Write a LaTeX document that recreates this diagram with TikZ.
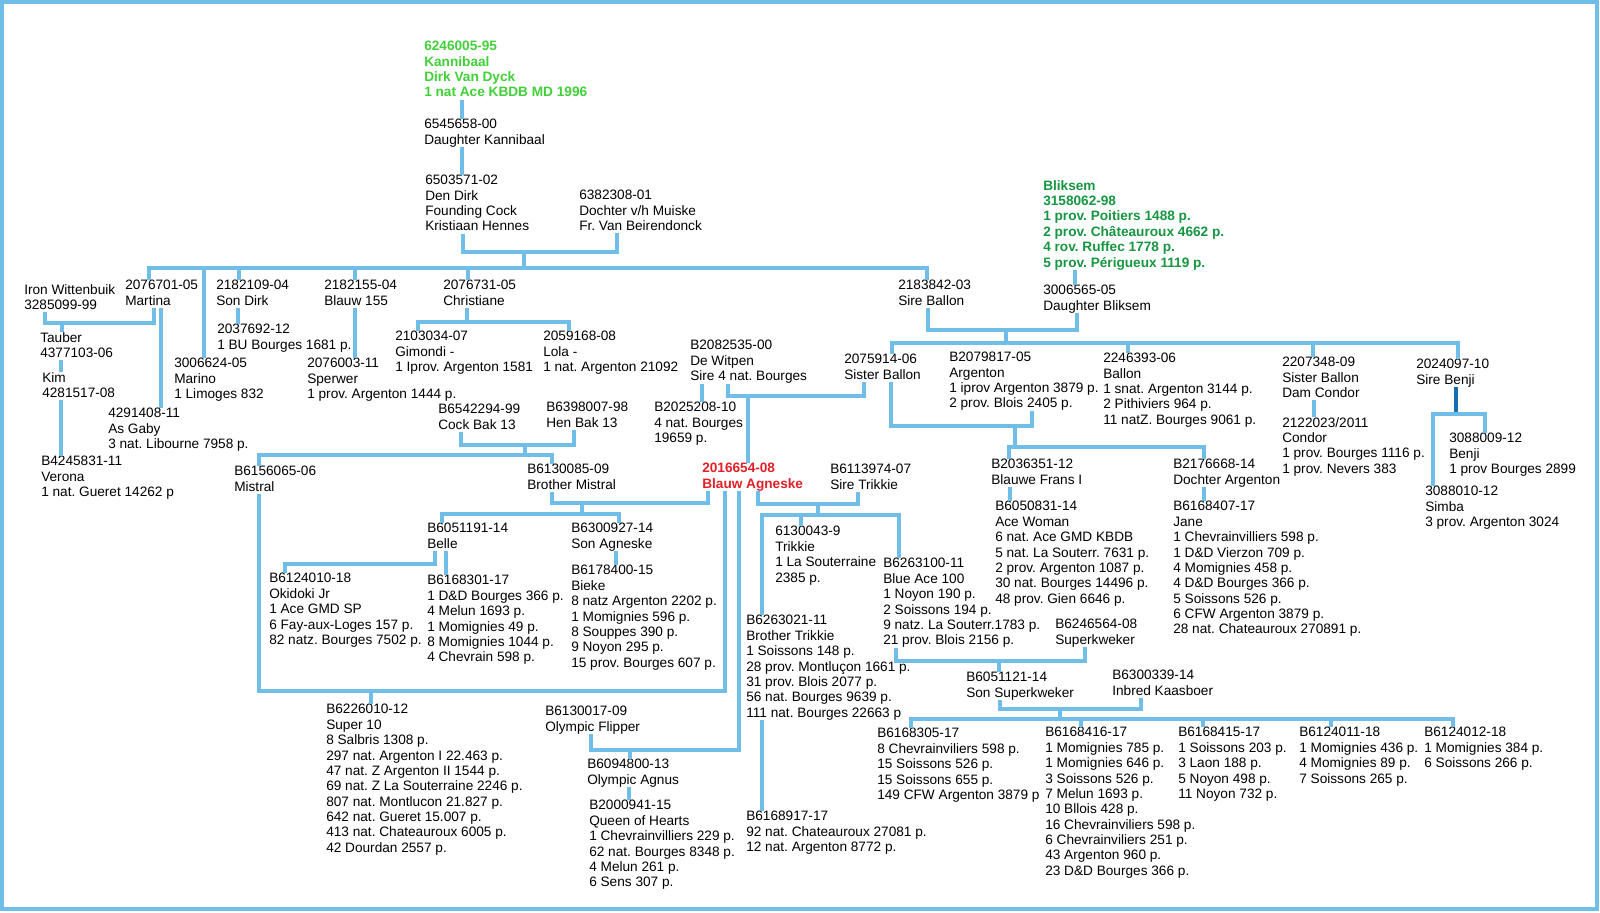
\documentclass[tikz,border=0pt]{standalone}
\usepackage{fontspec}
\setmainfont{Liberation Sans}
\usepackage{tikz}

\definecolor{lineblue}{RGB}{112,190,232}
\definecolor{sireblue}{RGB}{24,108,176}
\definecolor{kannigreen}{RGB}{64,208,56}
\definecolor{blikgreen}{RGB}{22,150,64}
\definecolor{agnesred}{RGB}{226,32,40}

\def\pedfont{\fontsize{9.7pt}{10.95pt}\selectfont\frenchspacing}
\def\topstrut{\rule{0pt}{3.2mm}}
\def\botstrut{\rule[-0.6mm]{0pt}{0.6mm}}

\tikzset{
	pigeon/.style={anchor=north west, inner sep=0pt, align=left, font=\pedfont,
		execute at begin node=\topstrut, execute at end node=\botstrut},
	champion/.style={pigeon, font=\pedfont\bfseries},
	link/.style={draw=lineblue, line width=0.85mm},
	sirelink/.style={draw=sireblue, line width=1.1mm},
	frame/.style={draw=lineblue, line width=0.85mm}
}

\begin{document}
\begin{tikzpicture}[x=0.25mm, y=-0.25mm]
			%%%%% START %%%%%
			
			\useasboundingbox (0,0) rectangle (1600,912);
			\draw[frame] (2,2) rectangle (1597,909);
			
			\begin{scope}[yshift=-0.75mm]
			% top of the line
			\node[champion, text=kannigreen] (kannibaal) at (424,38) {6246005-95\\Kannibaal\\Dirk Van Dyck\\1 nat Ace KBDB MD 1996};
			\node[pigeon] (dochterK) at (424,116) {6545658-00\\Daughter Kannibaal};
			\node[pigeon] (dendirk) at (425,172) {6503571-02\\Den Dirk\\Founding Cock\\Kristiaan Hennes};
			\node[pigeon] (muiske) at (579,187) {6382308-01\\Dochter v/h Muiske\\Fr. Van Beirendonck};
			\node[champion, text=blikgreen] (bliksem) at (1043,177) {Bliksem\\3158062-98\\1 prov. Poitiers 1488 p.\\2 prov. Châteauroux 4662 p.\\4 rov. Ruffec 1778 p.\\5 prov. Périgueux 1119 p.};
			\node[pigeon] (dbliksem) at (1043,282) {3006565-05\\Daughter Bliksem};
			
			\node[pigeon] (iron) at (24,281) {Iron Wittenbuik\\3285099-99};
			\node[pigeon] (martina) at (125,277) {2076701-05\\Martina};
			\node[pigeon] (sondirk) at (216,277) {2182109-04\\Son Dirk};
			\node[pigeon] (blauw) at (324,277) {2182155-04\\Blauw 155};
			\node[pigeon] (christiane) at (443,277) {2076731-05\\Christiane};
			\node[pigeon] (sireballon) at (898,277) {2183842-03\\Sire Ballon};
			
			\node[pigeon] (tauber) at (40,329) {Tauber\\4377103-06};
			\node[pigeon] (kim) at (42,369) {Kim\\4281517-08};
			\node[pigeon] (verona) at (41,453) {B4245831-11\\Verona\\1 nat. Gueret 14262 p};
			\node[pigeon] (asgaby) at (108,405) {4291408-11\\As Gaby\\3 nat. Libourne 7958 p.};
			\node[pigeon] (marino) at (174,355) {3006624-05\\Marino\\1 Limoges 832};
			\node[pigeon] (bu) at (217,321) {2037692-12\\1 BU Bourges 1681 p.};
			\node[pigeon] (sperwer) at (307,355) {2076003-11\\Sperwer\\1 prov. Argenton 1444 p.};
			\node[pigeon] (gimondi) at (395,328) {2103034-07\\Gimondi -\\1 Iprov. Argenton 1581};
			\node[pigeon] (lola) at (543,328) {2059168-08\\Lola -\\1 nat. Argenton 21092};
			\node[pigeon] (cockbak) at (438,401) {B6542294-99\\Cock Bak 13};
			\node[pigeon] (henbak) at (546,399) {B6398007-98\\Hen Bak 13};
			\node[pigeon] (witpen) at (690,337) {B2082535-00\\De Witpen\\Sire 4 nat. Bourges};
			\node[pigeon] (bourges) at (654,399) {B2025208-10\\4 nat. Bourges\\19659 p.};
			
			\node[pigeon] (sisterballon) at (844,351) {2075914-06\\Sister Ballon};
			\node[pigeon] (argenton) at (949,349) {B2079817-05\\Argenton\\1 iprov Argenton 3879 p.\\2 prov. Blois 2405 p.};
			\node[pigeon] (ballon) at (1103,350) {2246393-06\\Ballon\\1 snat. Argenton 3144 p.\\2 Pithiviers 964 p.\\11 natZ. Bourges 9061 p.};
			\node[pigeon] (damcondor) at (1282,354) {2207348-09\\Sister Ballon\\Dam Condor};
			\node[pigeon] (sirebenji) at (1416,356) {2024097-10\\Sire Benji};
			\node[pigeon] (condor) at (1282,414) {2122023/2011\\Condor\\1 prov. Bourges 1116 p.\\1 prov. Nevers 383};
			\node[pigeon] (benji) at (1449,430) {3088009-12\\Benji\\1 prov Bourges 2899};
			\node[pigeon] (simba) at (1425,483) {3088010-12\\Simba\\3 prov. Argenton 3024};
			
			\node[pigeon] (mistral) at (234,463) {B6156065-06\\Mistral};
			\node[pigeon] (brmistral) at (527,461) {B6130085-09\\Brother Mistral};
			\node[champion, text=agnesred] (agneske) at (702,460) {2016654-08\\Blauw Agneske};
			\node[pigeon] (siretrikkie) at (830,461) {B6113974-07\\Sire Trikkie};
			\node[pigeon] (frans) at (991,456) {B2036351-12\\Blauwe Frans I};
			\node[pigeon] (dargenton) at (1173,456) {B2176668-14\\Dochter Argenton};
			\node[pigeon] (acewoman) at (995,498) {B6050831-14\\Ace Woman\\6 nat. Ace GMD KBDB\\5 nat. La Souterr. 7631 p.\\2 prov. Argenton 1087 p.\\30 nat. Bourges 14496 p.\\48 prov. Gien 6646 p.};
			\node[pigeon] (jane) at (1173,498) {B6168407-17\\Jane\\1 Chevrainvilliers 598 p.\\1 D\&D Vierzon 709 p.\\4 Momignies 458 p.\\4 D\&D Bourges 366 p.\\5 Soissons 526 p.\\6 CFW Argenton 3879 p.\\28 nat. Chateauroux 270891 p.};
			
			\node[pigeon] (belle) at (427,520) {B6051191-14\\Belle};
			\node[pigeon] (sonagneske) at (571,520) {B6300927-14\\Son Agneske};
			\node[pigeon] (okidoki) at (269,570) {B6124010-18\\Okidoki Jr\\1 Ace GMD SP\\6 Fay-aux-Loges 157 p.\\82 natz. Bourges 7502 p.};
			\node[pigeon] (melun) at (427,572) {B6168301-17\\1 D\&D Bourges 366 p.\\4 Melun 1693 p.\\1 Momignies 49 p.\\8 Momignies 1044 p.\\4 Chevrain 598 p.};
			\node[pigeon] (bieke) at (571,562) {B6178400-15\\Bieke\\8 natz Argenton 2202 p.\\1 Momignies 596 p.\\8 Souppes 390 p.\\9 Noyon 295 p.\\15 prov. Bourges 607 p.};
			\node[pigeon] (trikkie) at (775,523) {6130043-9\\Trikkie\\1 La Souterraine\\2385 p.};
			\node[pigeon] (blueace) at (883,555) {B6263100-11\\Blue Ace 100\\1 Noyon 190 p.\\2 Soissons 194 p.\\9 natz. La Souterr.1783 p.\\21 prov. Blois 2156 p.};
			\node[pigeon] (brtrikkie) at (746,612) {B6263021-11\\Brother Trikkie\\1 Soissons 148 p.\\28 prov. Montluçon 1661 p.\\31 prov. Blois 2077 p.\\56 nat. Bourges 9639 p.\\111 nat. Bourges 22663 p};
			\node[pigeon] (superkweker) at (1055,616) {B6246564-08\\Superkweker};
			\node[pigeon] (sonsuper) at (966,669) {B6051121-14\\Son Superkweker};
			\node[pigeon] (kaasboer) at (1112,667) {B6300339-14\\Inbred Kaasboer};
			
			\node[pigeon] (super10) at (326,701) {B6226010-12\\Super 10\\8 Salbris 1308 p.\\297 nat. Argenton I 22.463 p.\\47 nat. Z Argenton II 1544 p.\\69 nat. Z La Souterraine 2246 p.\\807 nat. Montlucon 21.827 p.\\642 nat. Gueret 15.007 p.\\413 nat. Chateauroux 6005 p.\\42 Dourdan 2557 p.};
			\node[pigeon] (flipper) at (545,703) {B6130017-09\\Olympic Flipper};
			\node[pigeon] (agnus) at (587,756) {B6094800-13\\Olympic Agnus};
			\node[pigeon] (queen) at (589,797) {B2000941-15\\Queen of Hearts\\1 Chevrainvilliers 229 p.\\62 nat. Bourges 8348 p.\\4 Melun 261 p.\\6 Sens 307 p.};
			\node[pigeon] (chateauroux) at (746,808) {B6168917-17\\92 nat. Chateauroux 27081 p.\\12 nat. Argenton 8772 p.};
			
			\node[pigeon] (kidA) at (877,725) {B6168305-17\\8 Chevrainviliers 598 p.\\15 Soissons 526 p.\\15 Soissons 655 p.\\149 CFW Argenton 3879 p};
			\node[pigeon] (kidB) at (1045,724) {B6168416-17\\1 Momignies 785 p.\\1 Momignies 646 p.\\3 Soissons 526 p.\\7 Melun 1693 p.\\10 Bllois 428 p.\\16 Chevrainviliers 598 p.\\6 Chevrainviliers 251 p.\\43 Argenton 960 p.\\23 D\&D Bourges 366 p.};
			\node[pigeon] (kidC) at (1178,724) {B6168415-17\\1 Soissons 203 p.\\3 Laon 188 p.\\5 Noyon 498 p.\\11 Noyon 732 p.};
			\node[pigeon] (kidD) at (1299,724) {B6124011-18\\1 Momignies 436 p.\\4 Momignies 89 p.\\7 Soissons 265 p.};
			\node[pigeon] (kidE) at (1424,724) {B6124012-18\\1 Momignies 384 p.\\6 Soissons 266 p.};
			
			% Kannibaal down to Den Dirk
			\draw[link] (kannibaal.south -| 462,0) -- (dochterK.north -| 462,0);
			\draw[link] (dochterK.south -| 462,0) -- (dendirk.north -| 462,0);
			
			% Den Dirk x Dochter v/h Muiske
			\coordinate (jDirk) at (524,249);
			\coordinate (barDirk) at (524,265);
			\draw[link] (dendirk.south -| 463,0) |- (jDirk) -| (muiske.south -| 617,0);
			\draw[link] (jDirk) -- (barDirk);
			\draw[link] (martina.north -| 149,0) |- (barDirk) -| (sireballon.north -| 927,0);
			\draw[link] (barDirk -| 204,0) -- (marino.north -| 204,0);
			\draw[link] (barDirk -| 239,0) -- (sondirk.north -| 239,0);
			\draw[link] (barDirk -| 355,0) -- (blauw.north -| 355,0);
			\draw[link] (barDirk -| 468,0) -- (christiane.north -| 468,0);
			
			% Iron Wittenbuik x Martina
			\coordinate (jIron) at (62,320);
			\draw[link] (iron.south -| 45,0) |- (jIron) -| (martina.south -| 154,0);
			\draw[link] (jIron) -- (tauber.north -| jIron);
			\draw[link] (martina.south -| 161,0) -- (asgaby.north -| 161,0);
			\draw[link] (tauber.south -| 61,0) -- (kim.north -| 61,0);
			\draw[link] (kim.south -| 61,0) -- (verona.north -| 61,0);
			\draw[link] (sondirk.south -| 238,0) -- (bu.north -| 238,0);
			\draw[link] (blauw.south -| 355,0) -- (sperwer.north -| 355,0);
			
			% Christiane
			\coordinate (jChris) at (467,319);
			\draw[link] (christiane.south -| jChris) -- (jChris);
			\draw[link] (gimondi.north -| 418,0) |- (jChris) -| (lola.north -| 569,0);
			
			% Cock Bak 13 x Hen Bak 13
			\coordinate (jBak) at (525,442);
			\coordinate (barBak) at (525,452);
			\draw[link] (cockbak.south -| 461,0) |- (jBak) -| (henbak.south -| 574,0);
			\draw[link] (jBak) -- (barBak);
			\draw[link] (mistral.north -| 259,0) |- (barBak) -| (brmistral.north -| 552,0);
			
			% De Witpen x Sister Ballon
			\draw[link] (witpen.south -| 702,0) -- (bourges.north -| 702,0);
			\coordinate (jWitpen) at (748,393);
			\draw[link] (witpen.south -| 728,0) |- (jWitpen) -| (sisterballon.south -| 864,0);
			\draw[link] (jWitpen) -- (agneske.north -| jWitpen);
			
			% Sire Ballon x Daughter Bliksem
			\draw[link] (bliksem.south -| 1075,0) -- (dbliksem.north -| 1075,0);
			\coordinate (jBallon) at (1006,327);
			\coordinate (barBallon) at (1006,340);
			\draw[link] (sireballon.south -| 928,0) |- (jBallon) -| (dbliksem.south -| 1077,0);
			\draw[link] (jBallon) -- (barBallon);
			\draw[link] (sisterballon.north -| 892,0) |- (barBallon) -| (sirebenji.north -| 1458,0);
			\draw[link] (barBallon -| 1128,0) -- (ballon.north -| 1128,0);
			\draw[link] (barBallon -| 1313,0) -- (damcondor.north -| 1313,0);
			\draw[link] (damcondor.south -| 1314,0) -- (condor.north -| 1314,0);
			
			% Sister Ballon x Argenton
			\coordinate (jArg) at (1015,423);
			\coordinate (barArg) at (1015,444);
			\draw[link] (sisterballon.south -| 891,0) |- (jArg) -| (argenton.south -| 1032,0);
			\draw[link] (jArg) -- (barArg);
			\draw[link] (frans.north -| 1009,0) |- (barArg) -| (dargenton.north -| 1204,0);
			\draw[link] (frans.south -| 1010,0) -- (acewoman.north -| 1010,0);
			\draw[link] (dargenton.south -| 1204,0) -- (jane.north -| 1204,0);
			
			% Sire Benji
			\coordinate (jBenji) at (1456,411);
			\draw[sirelink] (sirebenji.south -| jBenji) -- (jBenji);
			\draw[link] (simba.north -| 1433,0) |- (jBenji) -| (benji.north -| 1485,0);
			
			% Brother Mistral x Blauw Agneske
			\coordinate (jMistral) at (582,500);
			\coordinate (barMistral) at (582,511);
			\draw[link] (brmistral.south -| 552,0) |- (jMistral) -| (agneske.south -| 708,0);
			\draw[link] (jMistral) -- (barMistral);
			\draw[link] (belle.north -| 442,0) |- (barMistral) -| (sonagneske.north -| 619,0);
			\draw[link] (sonagneske.south -| 616,0) -- (bieke.north -| 616,0);
			\coordinate (kBelle) at (285,561);
			\draw[link] (belle.south -| 435,0) |- (kBelle) -- (okidoki.north -| kBelle);
			\draw[link] (belle.south -| 446,0) -- (melun.north -| 446,0);
			
			% Mistral x Blauw Agneske
			\coordinate (jSuper) at (371,688);
			\draw[link] (mistral.south -| 259,0) |- (jSuper) -| (agneske.south -| 725,0);
			\draw[link] (jSuper) -- (super10.north -| jSuper);
			
			% Olympic Flipper x Blauw Agneske
			\coordinate (jFlipper) at (630,747);
			\draw[link] (flipper.south -| 591,0) |- (jFlipper) -| (agneske.south -| 739,0);
			\draw[link] (jFlipper) -- (agnus.north -| jFlipper);
			\draw[link] (agnus.south -| 629,0) -- (queen.north -| 629,0);
			
			% Blauw Agneske x Sire Trikkie
			\coordinate (jTrikkie) at (818,501);
			\coordinate (barTrikkie) at (818,512);
			\draw[link] (agneske.south -| 758,0) |- (jTrikkie) -| (siretrikkie.south -| 858,0);
			\draw[link] (jTrikkie) -- (barTrikkie);
			\draw[link] (brtrikkie.north -| 762,0) |- (barTrikkie) -| (blueace.north -| 899,0);
			\draw[link] (barTrikkie -| 801,0) -- (trikkie.north -| 801,0);
			\draw[link] (brtrikkie.south -| 762,0) -- (chateauroux.north -| 762,0);
			
			% Blue Ace 100 x Superkweker
			\coordinate (jKweker) at (999,658);
			\draw[link] (blueace.south -| 896,0) |- (jKweker) -| (superkweker.south -| 1085,0);
			\draw[link] (jKweker) -- (sonsuper.north -| jKweker);
			
			% Son Superkweker x Inbred Kaasboer
			\coordinate (jKaas) at (1060,706);
			\coordinate (barKaas) at (1060,716);
			\draw[link] (sonsuper.south -| 1000,0) |- (jKaas) -| (kaasboer.south -| 1141,0);
			\draw[link] (jKaas) -- (barKaas);
			\draw[link] (kidA.north -| 911,0) |- (barKaas) -| (kidE.north -| 1453,0);
			\draw[link] (barKaas -| 1081,0) -- (kidB.north -| 1081,0);
			\draw[link] (barKaas -| 1203,0) -- (kidC.north -| 1203,0);
			\draw[link] (barKaas -| 1331,0) -- (kidD.north -| 1331,0);
			\end{scope}
			
			%%%%% END %%%%%
\end{tikzpicture}
\end{document}
